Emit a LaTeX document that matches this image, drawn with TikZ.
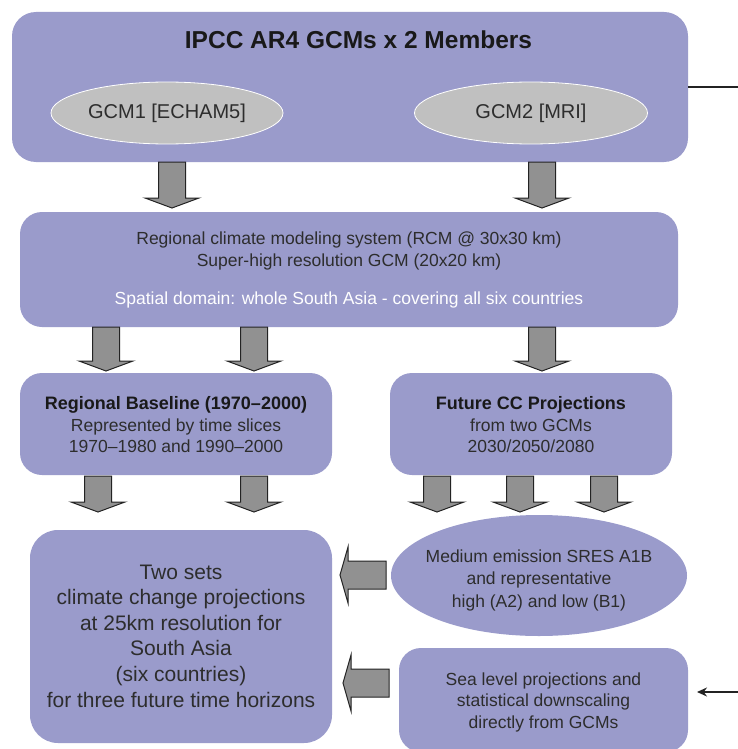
\documentclass[tikz,border=0pt]{standalone}
\usepackage{fontspec}
\setmainfont{Liberation Sans}
\usetikzlibrary{shapes.geometric,arrows.meta,calc}
\definecolor{boxc}{RGB}{154,155,203}
\definecolor{ellc}{RGB}{192,192,192}
\definecolor{arrc}{RGB}{145,145,145}
\definecolor{arrline}{RGB}{35,35,35}
\definecolor{txt}{RGB}{45,45,45}
\definecolor{ttl}{RGB}{25,25,25}
\tikzset{
  panel/.style={fill=boxc, draw=none, rounded corners=24pt, inner sep=0pt},
  gcm/.style={ellipse, fill=ellc, draw=white, line width=0.8pt, inner sep=0pt, text=txt, font=\fontsize{20}{24}\selectfont},
  blockarrow/.style={fill=arrc, draw=arrline, line width=1pt, line join=miter},
  lbl/.style={align=center, text=txt, inner sep=0pt},
  thinline/.style={draw=arrline, line width=1.5pt},
}
\newcommand\DArrow[2]{\draw[blockarrow] let \p1=(#1), \p2=(#2) in
  (\x1-13.5pt,\y1) -- (\x1+13.5pt,\y1) -- (\x1+13.5pt,\y2+10pt) -- (\x1+27pt,\y2+10pt)
  -- (\x1,\y2) -- (\x1-27pt,\y2+10pt) -- (\x1-13.5pt,\y2+10pt) -- cycle;}
\newcommand\LArrow[2]{\draw[blockarrow] let \p1=(#1), \p2=(#2) in
  (\x1,\y1+14pt) -- (\x1,\y1-14pt) -- (\x2+8pt,\y1-14pt) -- (\x2+8pt,\y1-28pt)
  -- (\x2,\y1) -- (\x2+8pt,\y1+28pt) -- (\x2+8pt,\y1+14pt) -- cycle;}
\begin{document}
\begin{tikzpicture}[x=1pt,y=-1pt]
\useasboundingbox (0,0) rectangle (738,749);
% panels
\node[panel, minimum width=676pt, minimum height=150pt] (A) at (350,87) {};
\node[panel, rounded corners=22pt, minimum width=658pt, minimum height=115pt] (B) at (349,269.5) {};
\node[panel, rounded corners=22pt, minimum width=312pt, minimum height=102pt] (C1) at (176,424) {};
\node[panel, rounded corners=22pt, minimum width=282pt, minimum height=102pt] (C2) at (531,424) {};
\node[panel, rounded corners=28pt, minimum width=302pt, minimum height=213pt] (D) at (181,636.5) {};
\node[ellipse, fill=boxc, inner sep=0pt, minimum width=296pt, minimum height=121pt] (E) at (539,575.5) {};
\node[panel, rounded corners=22pt, minimum width=289pt, minimum height=104pt] (F) at (543.5,700) {};
% texts
\node[lbl, text=ttl, font=\bfseries\fontsize{24.5}{29}\selectfont] (title) at (358.5,40) {IPCC AR4 GCMs x 2 Members};
\node[gcm, minimum width=232pt, minimum height=62pt] (g1) at (167,113) {GCM1 [ECHAM5]};
\node[gcm, minimum width=233pt, minimum height=62pt] (g2) at (531,113) {GCM2 [MRI]};
\node[lbl, font=\fontsize{17.5}{22}\selectfont] (bt) at (349,251) {Regional climate modeling system (RCM @ 30x30 km)\\Super-high resolution GCM (20x20 km)};
\node[lbl, text=white, font=\fontsize{17.5}{22}\selectfont] (bs) at (349,300) {Spatial domain: whole South Asia - covering all six countries};
\node[lbl, font=\fontsize{17.5}{21.5}\selectfont] (c1t) at (176,425) {{\color{ttl}\bfseries\fontsize{18}{21.5}\selectfont Regional Baseline (1970–2000)}\\Represented by time slices\\1970–1980 and 1990–2000};
\node[lbl, font=\fontsize{17.5}{21.5}\selectfont] (c2t) at (531,425) {{\color{ttl}\bfseries\fontsize{18}{21.5}\selectfont Future CC Projections}\\from two GCMs\\2030/2050/2080};
\node[lbl, font=\fontsize{21}{25.6}\selectfont] (dt) at (181,636) {Two sets\\climate change projections\\at 25km resolution for\\South Asia\\(six countries)\\for three future time horizons};
\node[lbl, font=\fontsize{17.5}{22.5}\selectfont] (et) at (539,580) {Medium emission SRES A1B\\and representative\\high (A2) and low (B1)};
\node[lbl, font=\fontsize{17.5}{21.5}\selectfont] (ft) at (543.5,702) {Sea level projections and\\statistical downscaling\\directly from GCMs};
% column / row coordinates
\coordinate (k1) at (172,0);
\coordinate (k2) at (542,0);
\coordinate (m1) at (106,0);
\coordinate (m2) at (254,0);
\coordinate (m3) at (542,0);
\coordinate (n1) at (98,0);
\coordinate (n2) at (254,0);
\coordinate (n3) at (437,0);
\coordinate (n4) at (520,0);
\coordinate (n5) at (604,0);
\coordinate (tipA) at (0,208);
\coordinate (tipB) at (0,371);
\coordinate (tipC) at (0,512);
\coordinate (topC) at (0,476);
% down arrows
\DArrow{A.south -| k1}{tipA -| k1}
\DArrow{A.south -| k2}{tipA -| k2}
\DArrow{B.south -| m1}{tipB -| m1}
\DArrow{B.south -| m2}{tipB -| m2}
\DArrow{B.south -| m3}{tipB -| m3}
\DArrow{topC -| n1}{tipC -| n1}
\DArrow{topC -| n2}{tipC -| n2}
\DArrow{topC -| n3}{tipC -| n3}
\DArrow{topC -| n4}{tipC -| n4}
\DArrow{topC -| n5}{tipC -| n5}
% left arrows
\coordinate (l1s) at (386,575);
\coordinate (l1t) at (340,575);
\coordinate (l2s) at (389,683);
\coordinate (l2t) at (343,683);
\LArrow{l1s}{l1t}
\LArrow{l2s}{l2t}
% side lines
\coordinate (rt) at (738,87);
\draw[thinline] (A.east) -- (rt);
\coordinate (rb) at (738,692);
\coordinate (rbt) at (697,692);
\draw[thinline, -{Stealth[length=10pt,width=9pt]}] (rb) -- (rbt);
\end{tikzpicture}
\end{document}
